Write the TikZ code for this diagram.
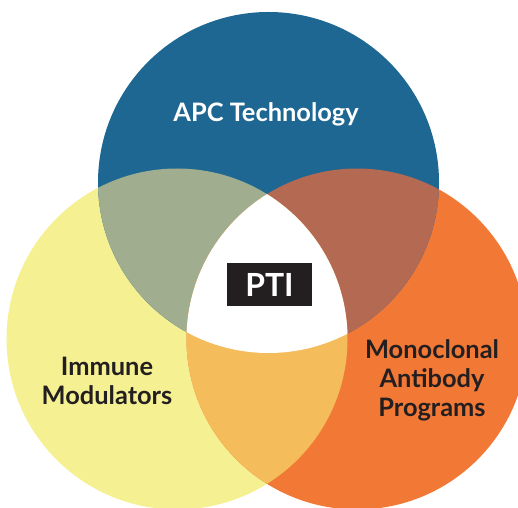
\documentclass[tikz,border=0pt]{standalone}
\usepackage{fontspec}
\setmainfont{Lato}
\definecolor{apcblue}{RGB}{29,103,146}
\definecolor{immyellow}{RGB}{245,240,145}
\definecolor{maborange}{RGB}{242,120,54}
\definecolor{mixgreen}{RGB}{160,173,143}
\definecolor{mixbrown}{RGB}{180,105,82}
\definecolor{mixgold}{RGB}{244,188,90}
\definecolor{boxblack}{RGB}{35,31,32}
\begin{document}
\begin{tikzpicture}[x=1bp,y=-1bp,
  label/.style={font=\bfseries\fontsize{25.5}{29}\selectfont, align=center, inner sep=0pt},
  darklabel/.style={label, text=boxblack}]
\useasboundingbox (0,0) rectangle (518,508);
% circle centres
\coordinate (ctop) at (268.5,182.5);
\coordinate (cleft) at (177,339);
\coordinate (cright) at (357,339);
\def\rad{170.5bp}
% base discs
\fill[immyellow] (cleft) circle[radius=\rad];
\fill[maborange] (cright) circle[radius=\rad];
\fill[apcblue] (ctop) circle[radius=\rad];
% pairwise overlaps
\begin{scope}
  \clip (ctop) circle[radius=\rad];
  \fill[mixgreen] (cleft) circle[radius=\rad];
  \fill[mixbrown] (cright) circle[radius=\rad];
\end{scope}
\begin{scope}
  \clip (cleft) circle[radius=\rad];
  \fill[mixgold] (cright) circle[radius=\rad];
  % centre of all three
  \clip (cright) circle[radius=\rad];
  \fill[white] (ctop) circle[radius=\rad];
\end{scope}
% labels
\node[label, text=white] (apc) at (266,114) {APC Technology};
\node[darklabel] (imm) at (107,381) {Immune\\Modulators};
\node[darklabel] (mab) at (432,380) {Monoclonal\\Antibody\\Programs};
\node[fill=boxblack, text=white, minimum width=85bp, minimum height=43bp,
      inner sep=0pt, font=\bfseries\fontsize{32}{32}\selectfont] (pti) at (269.5,284.5) {PTI};
\end{tikzpicture}
\end{document}
